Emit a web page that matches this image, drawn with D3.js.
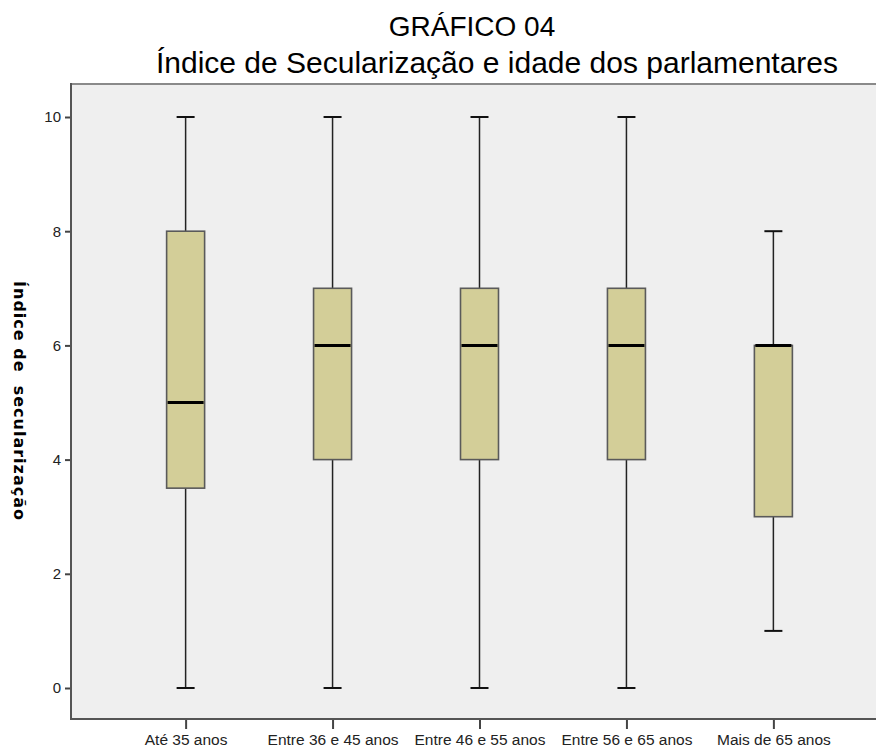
<!DOCTYPE html>
<html>
<head>
<meta charset="utf-8">
<script src="https://cdn.jsdelivr.net/npm/d3@7"></script>
<style>
  body { margin: 0; background: #fff; }
  svg { display: block; font-family: "Liberation Sans", Arial, sans-serif; }
  .box { fill: #d3ce98; stroke: #5a5a5a; stroke-width: 1.6; }
  .whisker { stroke: #222; stroke-width: 1.5; }
  .cap { stroke: #111; stroke-width: 2; }
  .median { stroke: #000; stroke-width: 3; }
</style>
</head>
<body>
<svg width="876" height="749"></svg>
<script>
const categories = ["Até 35 anos", "Entre 36 e 45 anos", "Entre 46 e 55 anos", "Entre 56 e 65 anos", "Mais de 65 anos"];
const mins    = [0, 0, 0, 0, 1];
const q1s     = [3.5, 4, 4, 4, 3];
const medians = [5, 6, 6, 6, 6];
const q3s     = [8, 7, 7, 7, 6];
const maxs    = [10, 10, 10, 10, 8];
const yTicks  = [0, 2, 4, 6, 8, 10];

const boxes = categories.map((c, i) => ({
    name: c, min: mins[i], q1: q1s[i], median: medians[i], q3: q3s[i], max: maxs[i]
}));

const svg = d3.select("svg");

const plotLeft = 71, plotRight = 888, plotTop = 84, plotBottom = 719;

const xScale = d3.scalePoint()
    .domain(categories)
    .range([plotLeft, plotRight])
    .padding(0.78);

const yScale = d3.scaleLinear()
    .domain([0, 10])
    .range([688, 117]);

const boxWidth = 38, capWidth = 18;

// plot background
svg.append("rect")
    .attr("x", plotLeft)
    .attr("y", plotTop)
    .attr("width", plotRight - plotLeft)
    .attr("height", plotBottom - plotTop)
    .attr("fill", "#efefef");

svg.append("line")
    .attr("x1", plotLeft).attr("x2", plotRight)
    .attr("y1", plotTop).attr("y2", plotTop)
    .attr("stroke", "#8a8a8a").attr("stroke-width", 2);

// whiskers
svg.selectAll(".whisker")
    .data(boxes)
    .enter().append("line")
    .attr("class", "whisker")
    .attr("x1", (d) => xScale(d.name))
    .attr("x2", (d) => xScale(d.name))
    .attr("y1", (d) => yScale(d.min))
    .attr("y2", (d) => yScale(d.max));

svg.selectAll(".cap-max")
    .data(boxes)
    .enter().append("line")
    .attr("class", "cap")
    .attr("x1", (d) => xScale(d.name) - capWidth / 2)
    .attr("x2", (d) => xScale(d.name) + capWidth / 2)
    .attr("y1", (d) => yScale(d.max))
    .attr("y2", (d) => yScale(d.max));

svg.selectAll(".cap-min")
    .data(boxes)
    .enter().append("line")
    .attr("class", "cap")
    .attr("x1", (d) => xScale(d.name) - capWidth / 2)
    .attr("x2", (d) => xScale(d.name) + capWidth / 2)
    .attr("y1", (d) => yScale(d.min))
    .attr("y2", (d) => yScale(d.min));

svg.selectAll(".box")
    .data(boxes)
    .enter().append("rect")
    .attr("class", "box")
    .attr("x", (d) => xScale(d.name) - boxWidth / 2)
    .attr("y", (d) => yScale(d.q3))
    .attr("width", boxWidth)
    .attr("height", (d) => yScale(d.q1) - yScale(d.q3));

svg.selectAll(".median")
    .data(boxes)
    .enter().append("line")
    .attr("class", "median")
    .attr("x1", (d) => xScale(d.name) - boxWidth / 2 + 1)
    .attr("x2", (d) => xScale(d.name) + boxWidth / 2 - 1)
    .attr("y1", (d) => yScale(d.median))
    .attr("y2", (d) => yScale(d.median));

// axes
const yAxis = svg.append("g")
    .attr("transform", `translate(${plotLeft},0)`)
    .call(d3.axisLeft(yScale).tickValues(yTicks).tickSize(6).tickPadding(4));

const xAxis = svg.append("g")
    .attr("transform", `translate(0,${plotBottom})`)
    .call(d3.axisBottom(xScale).tickSize(10).tickPadding(5));

[yAxis, xAxis].forEach((g) => {
    g.select(".domain").remove();
    g.selectAll(".tick line").attr("stroke", "#444").attr("stroke-width", 2);
    g.selectAll(".tick text")
        .attr("fill", "#222")
        .style("font-family", "Liberation Sans, Arial, sans-serif")
        .style("font-size", "15px");
});
xAxis.selectAll(".tick text").style("font-size", "15.5px");

svg.append("line")
    .attr("x1", plotLeft).attr("x2", plotLeft)
    .attr("y1", plotTop - 1).attr("y2", plotBottom + 1)
    .attr("stroke", "#555").attr("stroke-width", 2);

svg.append("line")
    .attr("x1", plotLeft - 1).attr("x2", plotRight)
    .attr("y1", plotBottom).attr("y2", plotBottom)
    .attr("stroke", "#555").attr("stroke-width", 2);

// titles
svg.append("text")
    .attr("x", 472)
    .attr("y", 36)
    .attr("text-anchor", "middle")
    .style("font-size", "28px")
    .text("GRÁFICO 04");

svg.append("text")
    .attr("x", 497)
    .attr("y", 73)
    .attr("text-anchor", "middle")
    .style("font-size", "30px")
    .text("Índice de Secularização e idade dos parlamentares");

svg.append("text")
    .attr("transform", "translate(14,401) rotate(90)")
    .attr("text-anchor", "middle")
    .style("font-family", "DejaVu Sans, Verdana, sans-serif")
    .style("font-size", "16px")
    .style("font-weight", "bold")
    .style("letter-spacing", "1px")
    .style("white-space", "pre")
    .attr("xml:space", "preserve")
    .text("Índice de  secularização");
</script>
</body>
</html>
